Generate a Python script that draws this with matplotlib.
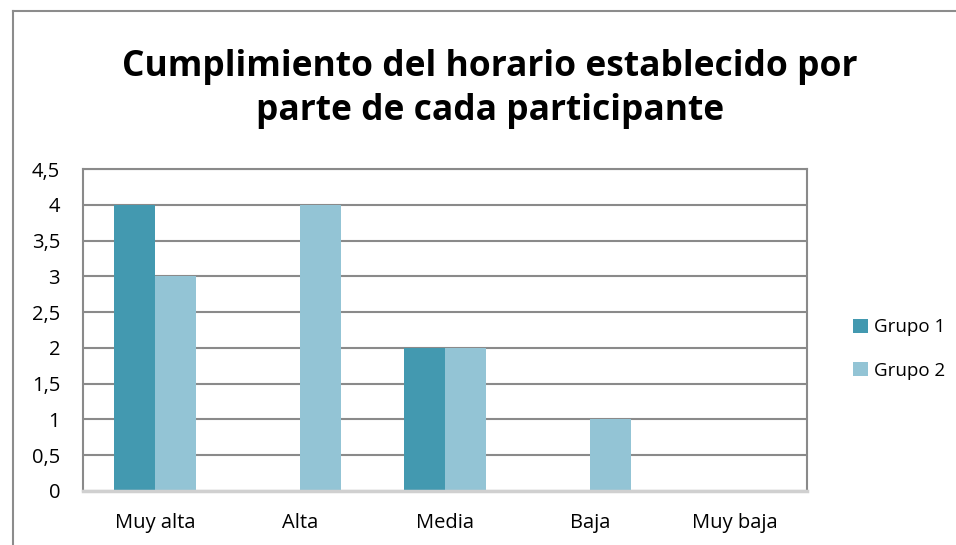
import numpy as np
import matplotlib.pyplot as plt
from matplotlib.lines import Line2D

categories = ['Muy alta', 'Alta', 'Media', 'Baja', 'Muy baja']
grupo1 = [4, 0, 2, 0, 0]
grupo2 = [3, 4, 2, 1, 0]
series_names = ['Grupo 1', 'Grupo 2']
colors = ['#4399B0', '#93C4D5']
yticks = [0, 0.5, 1, 1.5, 2, 2.5, 3, 3.5, 4, 4.5]

W, H = 956, 545
fig = plt.figure(figsize=(W / 100, H / 100), dpi=100)
plt.rcParams['font.family'] = ['Open Sans', 'DejaVu Sans']

# outer chart border (only top and left visible in the reference)
fig.add_artist(Line2D([12.5 / W, 12.5 / W], [0, 1 - 11 / H], color='#8c8c8c', lw=1.5))
fig.add_artist(Line2D([12.5 / W, 1], [1 - 11 / H, 1 - 11 / H], color='#8c8c8c', lw=1.5))

left, right, top, bottom = 83, 807, 169, 491
ax = fig.add_axes([left / W, 1 - bottom / H, (right - left) / W, (bottom - top) / H])

x = np.arange(len(categories))
bw = 41 / 144.8
ax.bar(x - bw / 2, grupo1, bw, color=colors[0], label=series_names[0], zorder=2)
ax.bar(x + bw / 2, grupo2, bw, color=colors[1], label=series_names[1], zorder=2)

ax.set_xlim(-0.5, len(categories) - 0.5)
ax.set_ylim(0, 4.5)
ax.set_yticks(yticks)
ax.set_yticklabels([f'{v:g}'.replace('.', ',') for v in yticks], fontsize=14.5)
ax.set_xticks(x)
ax.set_xticklabels(categories, fontsize=14.5)
ax.tick_params(length=0)
ax.tick_params(axis='y', pad=16.5)
ax.tick_params(axis='x', pad=16)

ax.yaxis.grid(True, color='#8a8a8a', lw=1.5, zorder=1)
ax.set_axisbelow(True)
for s in ['left', 'top', 'right']:
    ax.spines[s].set_color('#8a8a8a')
    ax.spines[s].set_linewidth(1.5)
ax.spines['bottom'].set_color('#d0d0d0')
ax.spines['bottom'].set_linewidth(2.5)

fig.text(490 / W, 1 - 89 / H, 'Cumplimiento del horario establecido por\nparte de cada participante',
         ha='center', va='center', fontsize=25.5, fontweight='bold', linespacing=1.3)

fig.legend(loc='center left', bbox_to_anchor=(836 / W, 1 - 349 / H), frameon=False,
           fontsize=13.5, handlelength=0.8, handleheight=0.8, handletextpad=0.35,
           labelspacing=1.35)

fig.savefig('out.png', dpi=100)
